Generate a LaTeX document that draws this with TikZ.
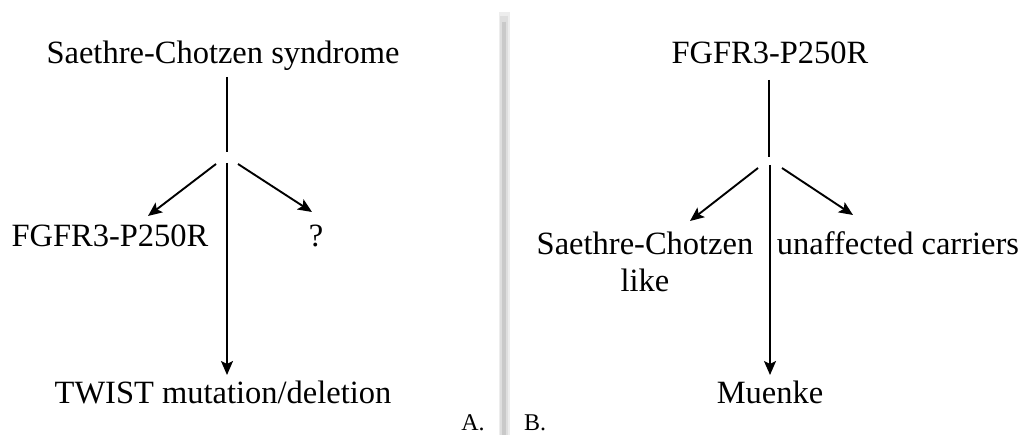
\documentclass[tikz,border=0pt]{standalone}
\usepackage{fontspec}
\setmainfont{Liberation Serif}
\usetikzlibrary{arrows.meta}
\begin{document}
\begin{tikzpicture}[x=1pt,y=-1pt,
  lbl/.style={font=\fontsize{32.5}{37}\selectfont, inner sep=0pt, anchor=base, align=center},
  small/.style={font=\fontsize{24}{28}\selectfont, inner sep=0pt, anchor=base},
  conn/.style={line width=1.9pt, black},
  arr/.style={conn, -{Stealth[length=14pt,width=12pt,inset=3pt]}}]
\useasboundingbox (0,0) rectangle (1030,435);
% separator
\draw[line width=11pt, gray!14] (504,12) -- (504,435);
\draw[line width=8pt, gray!26] (504,16) -- (504,435);
\draw[line width=4.5pt, gray!42] (504,22) -- (504,435);
% left panel
\node[lbl] (ltitle) at (223,64) {Saethre-Chotzen syndrome};
\node[lbl] (lfgfr) at (110,247) {FGFR3-P250R};
\node[lbl] (lq) at (316,247) {?};
\node[lbl] (twist) at (223,403) {TWIST mutation/deletion};
\node[small] (la) at (473,430) {A.};
\coordinate (l1) at (227,77);
\coordinate (l2) at (227,152);
\coordinate (l3) at (227,163);
\coordinate (l4) at (227,375);
\coordinate (ls1) at (216,164);
\coordinate (le1) at (148,216);
\coordinate (ls2) at (238,164);
\coordinate (le2) at (312,212);
\draw[conn] (l1) -- (l2);
\draw[arr] (l3) -- (l4);
\draw[arr] (ls1) -- (le1);
\draw[arr] (ls2) -- (le2);
% right panel
\node[small] (lb) at (535,430) {B.};
\node[lbl] (rtitle) at (770,64) {FGFR3-P250R};
\node[lbl] (rsc) at (645,292) {Saethre-Chotzen\\like};
\node[lbl] (run) at (898,255) {unaffected carriers};
\node[lbl] (muenke) at (770,403) {Muenke};
\coordinate (r1) at (769,80);
\coordinate (r2) at (769,157);
\coordinate (r3) at (770,165);
\coordinate (r4) at (770,375);
\coordinate (rs1) at (758,168);
\coordinate (re1) at (690,221);
\coordinate (rs2) at (782,168);
\coordinate (re2) at (853,215);
\draw[conn] (r1) -- (r2);
\draw[arr] (r3) -- (r4);
\draw[arr] (rs1) -- (re1);
\draw[arr] (rs2) -- (re2);
\end{tikzpicture}
\end{document}
